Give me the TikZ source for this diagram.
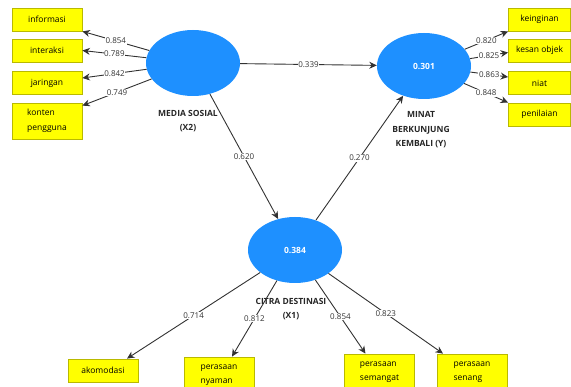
\documentclass[tikz,border=0pt]{standalone}
\usepackage{fontspec}
\setmainfont{Open Sans}
\usetikzlibrary{shapes.geometric,positioning,arrows.meta}
\definecolor{lvblue}{RGB}{30,144,255}
\definecolor{mvyellow}{RGB}{255,255,0}
\definecolor{mvborder}{RGB}{185,185,0}
\definecolor{pathgray}{RGB}{50,50,50}

\begin{document}
\begin{tikzpicture}[x=1pt,y=-1pt,>={Stealth[length=7.5pt,width=7pt]},
  latent/.style={ellipse,fill=lvblue,minimum width=94pt,minimum height=66pt,inner sep=0pt,text=white,font=\fontsize{8.5}{9}\selectfont\bfseries},
  indicator/.style={rectangle,fill=mvyellow,draw=mvborder,line width=0.8pt,minimum width=70pt,minimum height=23pt,inner sep=2pt,font=\fontsize{8.5}{14.5}\selectfont,align=left},
  lvname/.style={font=\fontsize{8.5}{14.5}\selectfont\bfseries,align=center,text=black!85},
  path/.style={->,draw=pathgray,line width=0.9pt},
  coef/.style={fill=white,inner sep=0.6pt,font=\fontsize{8}{8}\selectfont,text=black!80}]
\useasboundingbox (0,0) rectangle (571,387);

% latent variables
\node[latent] (ms) at (193,63) {};
\node[latent] (mk) at (424,66) {0.301};
\node[latent] (ct) at (295,250) {0.384};
\node[lvname] (msname) at (188,121) {MEDIA SOSIAL\\(X2)};
\node[lvname] (mkname) at (421,130) {MINAT\\BERKUNJUNG\\KEMBALI (Y)};
\node[lvname] (ctname) at (291,309) {CITRA DESTINASI\\(X1)};

% indicators
\node[indicator] (info) at (47,19.5) {informasi};
\node[indicator] (inter) at (47,50.5) {interaksi};
\node[indicator] (jar) at (47,83) {jaringan};
\node[indicator,minimum height=36pt] (kon) at (47,121) {konten\\pengguna};

\node[indicator,minimum width=62pt] (kei) at (539.5,19.5) {keinginan};
\node[indicator,minimum width=62pt] (kes) at (539.5,50.5) {kesan objek};
\node[indicator,minimum width=62pt] (niat) at (539.5,83) {niat};
\node[indicator,minimum width=62pt] (pen) at (539.5,114.5) {penilaian};

\node[indicator] (ako) at (103,370.5) {akomodasi};
\node[indicator,minimum height=36pt] (nya) at (219,375) {perasaan\\nyaman};
\node[indicator,minimum height=36pt] (sem) at (379.5,372) {perasaan\\semangat};
\node[indicator,minimum height=36pt] (sen) at (472,372) {perasaan\\senang};

% inner model
\draw[path] (ms) -- node[coef] {0.339} (mk);
\draw[path] (ms) -- node[coef] {0.620} (ct);
\draw[path] (ct) -- node[coef] {0.270} (mk);

% outer loadings
\draw[path] (ms) -- node[coef] {0.854} (info.south east);
\draw[path] (ms) -- node[coef] {0.789} (inter.east);
\draw[path] (ms) -- node[coef] {0.842} ([yshift=5pt]jar.east);
\draw[path] (ms) -- node[coef] {0.749} ([yshift=-3pt]kon.north east);

\draw[path] (mk) -- node[coef] {0.820} (kei.south west);
\draw[path] (mk) -- node[coef] {0.825} ([yshift=-2pt]kes.west);
\draw[path] (mk) -- node[coef] {0.863} ([yshift=6pt]niat.west);
\draw[path] (mk) -- node[coef] {0.848} (pen.north west);

\draw[path] (ct) -- node[coef] {0.714} ([xshift=24pt]ako.north);
\draw[path] (ct) -- node[coef] {0.812} ([xshift=13pt]nya.north);
\draw[path] (ct) -- node[coef] {0.854} ([xshift=-14pt]sem.north);
\draw[path] (ct) -- node[coef] {0.823} ([xshift=-29pt]sen.north);
\end{tikzpicture}
\end{document}
